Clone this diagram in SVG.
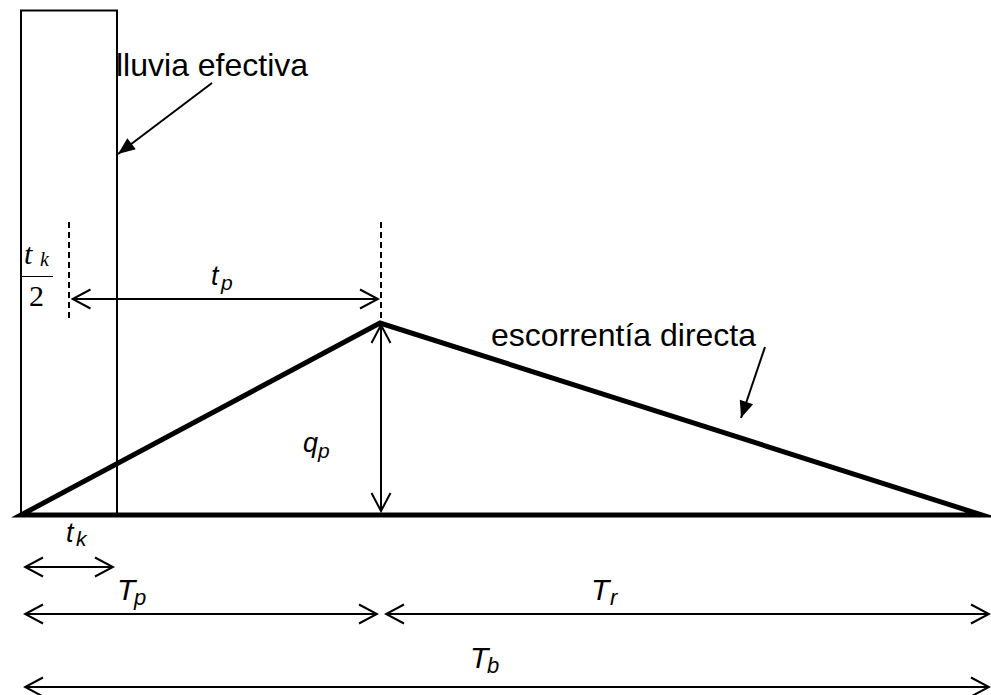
<svg xmlns="http://www.w3.org/2000/svg" width="991" height="695" viewBox="0 0 991 695">
<style>
.thin{stroke:#000;stroke-width:2;fill:none}
.dash{stroke:#000;stroke-width:2;fill:none;stroke-dasharray:6 4}
.thick{stroke:#000;stroke-width:5;fill:none;stroke-linejoin:miter;stroke-miterlimit:10}
.lbl{font-family:"Liberation Sans",Arial,sans-serif;font-size:32px;fill:#000}
.it{font-family:"Liberation Sans",Arial,sans-serif;font-style:italic;fill:#000}
.ser{font-family:"Liberation Serif","Times New Roman",serif;fill:#000}
</style>
<defs>
<marker id="open" viewBox="-20 -11 22 22" markerWidth="22" markerHeight="22" refX="0" refY="0" orient="auto-start-reverse" markerUnits="userSpaceOnUse">
<path d="M-18,-9.5 L0,0 L-18,9.5" fill="none" stroke="#000" stroke-width="2"/>
</marker>
<marker id="filled" viewBox="-18 -8 19 16" markerWidth="19" markerHeight="16" refX="0" refY="0" orient="auto" markerUnits="userSpaceOnUse">
<path d="M-17,-7 L0,0 L-17,7 Z" fill="#000"/>
</marker>
</defs>
<rect width="991" height="695" fill="#fff"/>
<g id="lluvia">
<rect x="21" y="10.5" width="96" height="505" class="thin"/>
</g>
<g id="hidrograma">
<polygon points="21,515 380,323 982,515" class="thick"/>
</g>
<g id="connectors">
<line x1="69" y1="222" x2="69" y2="318" class="dash"/>
<line x1="381" y1="222" x2="381" y2="320" class="dash"/>
<line x1="72.5" y1="299" x2="378" y2="299" class="thin" marker-start="url(#open)" marker-end="url(#open)"/>
<line x1="381" y1="325" x2="381" y2="511" class="thin" marker-start="url(#open)" marker-end="url(#open)"/>
<line x1="25" y1="567" x2="113" y2="567" class="thin" marker-start="url(#open)" marker-end="url(#open)"/>
<line x1="25" y1="614" x2="377" y2="614" class="thin" marker-start="url(#open)" marker-end="url(#open)"/>
<line x1="386" y1="614" x2="989" y2="614" class="thin" marker-start="url(#open)" marker-end="url(#open)"/>
<line x1="25" y1="687" x2="989" y2="687" class="thin" marker-start="url(#open)" marker-end="url(#open)"/>
<line x1="212" y1="83" x2="118" y2="154" class="thin" marker-end="url(#filled)"/>
<line x1="765" y1="347" x2="741" y2="418" class="thin" marker-end="url(#filled)"/>
</g>
<g id="labels">
<text x="116" y="76" class="lbl">lluvia efectiva</text>
<text x="491" y="346" class="lbl">escorrentía directa</text>
<text class="it" font-size="27"><tspan x="211" y="285">t</tspan><tspan x="221" y="290" font-size="21">p</tspan></text>
<text class="it" font-size="27"><tspan x="303" y="452">q</tspan><tspan x="318" y="458" font-size="21">p</tspan></text>
<text class="it" font-size="27"><tspan x="66" y="542">t</tspan><tspan x="76" y="546" font-size="21">k</tspan></text>
<text class="it" font-size="30"><tspan x="117" y="600">T</tspan><tspan x="134" y="605" font-size="22">p</tspan></text>
<text class="it" font-size="30"><tspan x="591" y="600">T</tspan><tspan x="610" y="605" font-size="22">r</tspan></text>
<text class="it" font-size="30"><tspan x="470" y="668">T</tspan><tspan x="487" y="673" font-size="22">b</tspan></text>
<text class="ser" font-style="italic" font-size="30"><tspan x="24" y="264">t</tspan><tspan x="40" y="266" font-size="20">k</tspan></text>
<line x1="22" y1="276.5" x2="53" y2="276.5" stroke="#000" stroke-width="1"/>
<text x="29" y="306" class="ser" font-size="30">2</text>
</g>
</svg>
